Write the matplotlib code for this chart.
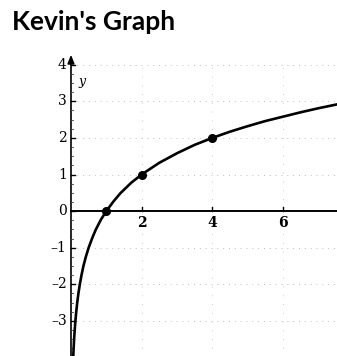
import matplotlib
matplotlib.use("Agg")
import matplotlib.pyplot as plt

# data
curve_x = [0.0625, 0.075, 0.088, 0.105, 0.125, 0.15, 0.177, 0.21, 0.25, 0.3, 0.35, 0.42, 0.5, 0.6, 0.7, 0.85,
           1.0, 1.2, 1.4, 1.7, 2.0, 2.5, 3.0, 3.5, 4.0, 4.5, 5.0, 5.5, 6.0, 6.5, 7.0, 7.55]
curve_y = [-4.0, -3.74, -3.5, -3.25, -3.0, -2.74, -2.5, -2.25, -2.0, -1.74, -1.51, -1.25, -1.0, -0.74, -0.51, -0.23,
           0.0, 0.26, 0.49, 0.77, 1.0, 1.32, 1.58, 1.81, 2.0, 2.17, 2.32, 2.46, 2.58, 2.70, 2.81, 2.92]
point_x = [1, 2, 4]
point_y = [0, 1, 2]
xtick_vals = [2, 4, 6]
ytick_vals = [4, 3, 2, 1, 0, -1, -2, -3]
title = "Kevin's Graph"

fig = plt.figure(figsize=(3.37, 3.56), dpi=100)
ax = fig.add_axes([0, 0, 1, 1])
ax.set_xlim(-2.011, 7.535)
ax.set_ylim(-3.96, 5.77)
ax.axis('off')

# faint grid
for yv in [4, 3, 2, 1, -1, -2, -3, -4]:
    ax.plot([0, 7.6], [yv, yv], color='#bdbdbd', lw=0.7, ls=(0, (1, 5)), zorder=1)
for xv in xtick_vals:
    ax.plot([xv, xv], [-4, 4], color='#cccccc', lw=0.7, ls=(0, (1, 8)), zorder=1)

# axes
ax.plot([0, 7.6], [0, 0], color='black', lw=1.4, zorder=2)
ax.annotate('', xy=(0, 4.35), xytext=(0, -4.1),
            arrowprops=dict(arrowstyle='-|>,head_length=0.5,head_width=0.2', color='black', lw=1.2), zorder=2)
# small minor ticks on y axis
for i in range(-16, 17):
    yv = i / 4
    if i % 4:
        ax.plot([0, 0.05], [yv, yv], color='#444444', lw=0.6, zorder=2)

# ticks
for xv in xtick_vals:
    ax.plot([xv, xv], [0, 0.1], color='black', lw=1.0, zorder=2)
    ax.text(xv, -0.12, str(xv), ha='center', va='top', fontsize=10, family='DejaVu Serif', fontweight='bold')
for yv in ytick_vals:
    ax.plot([0, 0.1], [yv, yv], color='black', lw=1.0, zorder=2)
    lab = str(yv) if yv >= 0 else '\u2013' + str(-yv)
    ax.text(-0.12, yv, lab, ha='right', va='center', fontsize=10, family='DejaVu Serif')

ax.text(0.2, 3.55, 'y', fontsize=9, style='italic', family='DejaVu Serif', ha='left', va='center')

# curve and points
ax.plot(curve_x, curve_y, color='black', lw=1.9, zorder=3, solid_capstyle='round')
ax.plot(point_x, point_y, 'o', color='black', markersize=5.5, zorder=4)

fig.text(12 / 337, 1 - 22 / 356, title, fontsize=19, fontweight='bold', ha='left', va='center',
         family='Lato')

fig.savefig('out.png', dpi=100)
